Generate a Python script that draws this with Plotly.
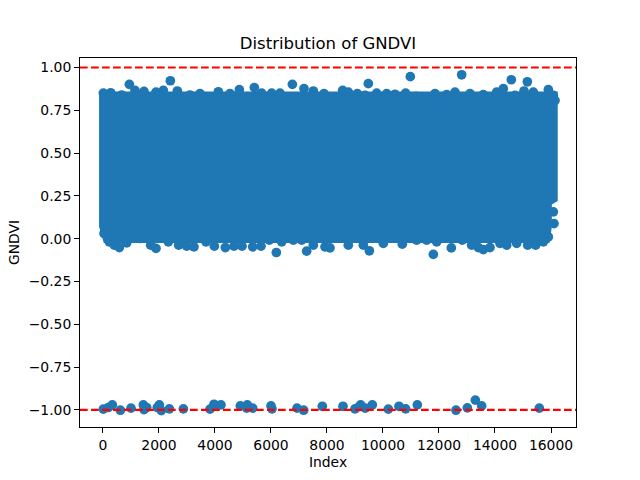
import plotly.graph_objects as go

BLUE = "#1f77b4"

# Saturated core of the cloud: outline
core_x = [-140, 16240, 16240, 16030, 16030, 15950, 30, -140]
core_y = [0.86, 0.86, 0.22, 0.20, 0.07, -0.025, -0.025, 0.07]

# Individually visible points along the top edge of the cloud
top_x = [12, 274, 667, 1143, 1465, 1893, 2155, 2655, 3108, 3465, 4120, 4536, 4870, 5667, 6024, 6322, 7179, 7512, 7893,
         8559, 8762, 9083, 9357, 9774, 10131, 10428, 10809, 11178, 11857, 12274, 12571, 13107, 13583, 14059, 14297, 14714, 15036, 15369, 15905, 16083, 16143]
top_y = [0.850, 0.852, 0.839, 0.866, 0.860, 0.856, 0.866, 0.862, 0.839, 0.847, 0.858, 0.847, 0.870, 0.850, 0.850, 0.850, 0.876, 0.862, 0.847,
         0.866, 0.856, 0.847, 0.837, 0.850, 0.847, 0.843, 0.850, 0.831, 0.847, 0.841, 0.856, 0.847, 0.841, 0.856, 0.876, 0.837, 0.862, 0.856, 0.870, 0.837, 0.807]

# Individually visible points along the bottom edge of the cloud
bottom_x = [36, 227, 405, 584, 846, 1322, 1703, 1893, 2334, 2703, 2989, 3250, 3679, 3977, 4370, 4679, 4965, 5346, 5644, 5941, 6382, 6798, 7096, 7512, 7929,
            8107, 8762, 9298, 9512, 10012, 10690, 11202, 11560, 11917, 12440, 12833, 13166, 13405, 13583, 13821, 14178, 14417, 14774, 15167, 15452, 15726, 15905, 16107, 16083]
bottom_y = [0.030, -0.019, -0.038, -0.052, -0.025, 0.001, -0.038, -0.057, -0.019, -0.038, -0.044, -0.048, -0.019, -0.044, -0.052, -0.044, -0.044, -0.048, -0.044, -0.009, -0.019, -0.009, -0.009, -0.038, -0.048,
            -0.054, -0.038, -0.038, -0.071, -0.028, -0.032, -0.009, -0.009, -0.019, -0.054, -0.009, -0.038, -0.052, -0.064, -0.052, -0.028, -0.038, -0.028, -0.038, -0.038, -0.019, 0.010, 0.088, 0.156]

# Isolated outliers above and below the cloud
outlier_x = [941, 2405, 5405, 6763, 9476, 10976, 12809, 14583, 15155, 6191, 7274, 11798]
outlier_y = [0.901, 0.922, 0.882, 0.901, 0.905, 0.946, 0.957, 0.928, 0.916, -0.081, -0.073, -0.092]

# Points around -1
low_x = [12, 191, 334, 620, 1000, 1441, 1465, 1560, 1941, 2012, 2084, 2370, 2870, 3822, 3965, 4036, 4215, 4905, 5155, 5131, 5346, 6000, 6036, 6929, 7167, 7834,
         8571, 9000, 9202, 9155, 9369, 9619, 10190, 10571, 10809, 11226, 12607, 13012, 13298, 13524, 15583]
low_y = [-0.996, -0.986, -0.971, -1.002, -0.990, -0.971, -0.998, -0.986, -0.986, -0.971, -1.004, -0.994, -0.994, -0.996, -0.967, -0.975, -0.971, -0.977, -0.971, -0.990, -0.990, -0.977, -0.994, -0.990, -1.002, -0.979,
         -0.979, -0.994, -0.971, -0.981, -0.990, -0.971, -0.996, -0.979, -0.994, -0.971, -1.002, -0.988, -0.943, -0.977, -0.990]

x_ticks = [0, 2000, 4000, 6000, 8000, 10000, 12000, 14000, 16000]
x_labels = ["0", "2000", "4000", "6000", "8000", "10000", "12000", "14000", "16000"]
y_ticks = [1.00, 0.75, 0.50, 0.25, 0.00, -0.25, -0.50, -0.75, -1.00]
y_labels = ["1.00", "0.75", "0.50", "0.25", "0.00", "\u22120.25", "\u22120.50", "\u22120.75", "\u22121.00"]
ref_levels = [1, -1]

fig = go.Figure()
fig.add_trace(go.Scatter(x=core_x, y=core_y, mode="none", fill="toself", fillcolor=BLUE, hoverinfo="skip"))
for xs, ys in [(top_x, top_y), (bottom_x, bottom_y), (outlier_x, outlier_y), (low_x, low_y)]:
    fig.add_trace(go.Scatter(x=xs, y=ys, mode="markers", marker=dict(color=BLUE, size=9.7, line=dict(width=0))))

for level in ref_levels:
    fig.add_shape(type="line", xref="paper", x0=0, x1=1, yref="y", y0=level, y1=level,
                  line=dict(color="red", width=2.08, dash="7.7px,3.3px"))

axis = dict(showline=True, mirror=True, linecolor="black", linewidth=1.1, ticks="outside", ticklen=4.9, tickwidth=1.1,
            tickcolor="black", showgrid=False, zeroline=False, automargin=False, tickfont=dict(size=13.9))
fig.update_layout(
    width=640, height=480, showlegend=False, plot_bgcolor="white", paper_bgcolor="white",
    margin=dict(l=80, r=64, t=57.6, b=52.8, pad=0),
    font=dict(family="DejaVu Sans", size=13.9, color="black"),
    title=dict(text="Distribution of GNDVI", font=dict(size=16.5), xref="paper", x=0.5, xanchor="center",
               yref="container", y=0.91, yanchor="middle", automargin=False),
    xaxis=dict(axis, range=[-821, 16893], tickvals=x_ticks, ticktext=x_labels,
               title=dict(text="Index", font=dict(size=13.9), standoff=5)),
    yaxis=dict(axis, range=[-1.1, 1.055], tickvals=y_ticks, ticktext=y_labels,
               title=dict(text="GNDVI", font=dict(size=13.9), standoff=5)),
)
fig.write_html("out.html", post_script="document.body.style.margin='0';", config={"displayModeBar": False})
